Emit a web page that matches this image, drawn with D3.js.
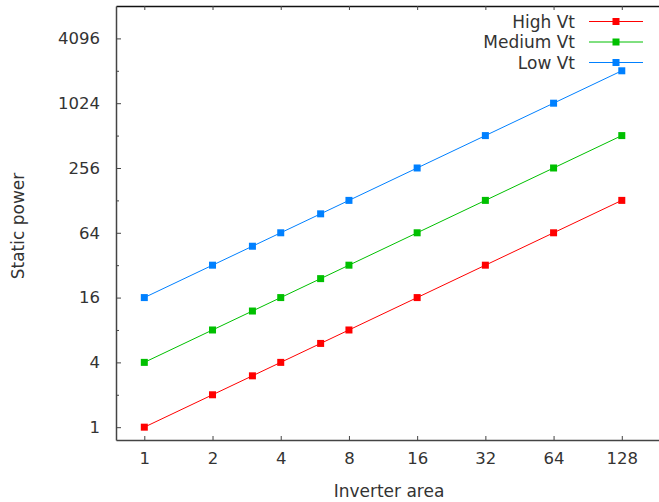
<!DOCTYPE html>
<html><head><meta charset="utf-8">
<script src="https://cdn.jsdelivr.net/npm/d3@7"></script>
<style>body{margin:0;background:#fff}svg{display:block}text{font-family:"DejaVu Sans",sans-serif;fill:#333}</style>
</head><body><svg id="c" width="659" height="502"></svg>
<script>
const areas = [1, 2, 3, 4, 6, 8, 16, 32, 64, 128];
const highVt = [1, 2, 3, 4, 6, 8, 16, 32, 64, 128];
const mediumVt = [4, 8, 12, 16, 24, 32, 64, 128, 256, 512];
const lowVt = [16, 32, 48, 64, 96, 128, 256, 512, 1024, 2048];
const seriesNames = ["High Vt", "Medium Vt", "Low Vt"];
const seriesColors = ["#ff0000", "#00c000", "#0080ff"];
const xTicks = [1, 2, 4, 8, 16, 32, 64, 128];
const yTicks = [1, 4, 16, 64, 256, 1024, 4096];
const yMinorTicks = [2, 8, 32, 128, 512, 2048];

const svg = d3.select("#c");
const L = 116, T = 6, B = 440;
const x = d3.scaleLog().base(2).domain([0.75, 256]).range([L, 690]);
const y = d3.scaleLog().base(2).domain([0.76, 8192]).range([B, T]);
const axisColor = "#444";
const fsTick = 16.5, fsText = 17;

// bottom axis
const gx = svg.append("g").attr("transform", `translate(0,${B})`)
  .call(d3.axisBottom(x).tickValues(xTicks).tickFormat(d3.format("d")).tickSizeInner(-4).tickSizeOuter(0).tickPadding(12));
gx.select(".domain").attr("stroke", axisColor).attr("stroke-width", 1.5);
gx.selectAll(".tick line").attr("stroke", axisColor);
gx.selectAll(".tick text").attr("font-size", fsTick).attr("fill", "#333");
// top axis ticks
const gt = svg.append("g").attr("transform", `translate(0,${T})`)
  .call(d3.axisTop(x).tickValues(xTicks).tickFormat("").tickSizeInner(-4).tickSizeOuter(0));
gt.select(".domain").attr("stroke", "#111").attr("stroke-width", 1.5);
gt.selectAll(".tick line").attr("stroke", axisColor);
// left axis
const gy = svg.append("g").attr("transform", `translate(${L},0)`)
  .call(d3.axisLeft(y).tickValues(yTicks).tickFormat(d3.format("d")).tickSizeInner(-5).tickSizeOuter(0).tickPadding(16));
gy.select(".domain").attr("stroke", axisColor).attr("stroke-width", 1.5);
gy.selectAll(".tick line").attr("stroke", axisColor);
gy.selectAll(".tick text").attr("font-size", fsTick).attr("fill", "#333");
const gym = svg.append("g").attr("transform", `translate(${L},0)`)
  .call(d3.axisLeft(y).tickValues(yMinorTicks).tickFormat("").tickSizeInner(-3).tickSizeOuter(0));
gym.select(".domain").remove();
gym.selectAll(".tick line").attr("stroke", axisColor);

// axis titles
svg.append("text").attr("x", 389).attr("y", 497).attr("text-anchor", "middle").attr("font-size", fsText).text("Inverter area");
svg.append("text").attr("transform", "translate(24,226) rotate(-90)").attr("text-anchor", "middle").attr("font-size", fsText).text("Static power");

const allSeries = [highVt, mediumVt, lowVt];
const line = d3.line().x(d => x(d[0])).y(d => y(d[1]));
const ms = 7;
allSeries.forEach((vals, i) => {
  const pts = areas.map((a, j) => [a, vals[j]]);
  svg.append("path").datum(pts).attr("d", line).attr("fill", "none").attr("stroke", seriesColors[i]).attr("stroke-width", 1);
  svg.selectAll(null).data(pts).enter().append("rect")
    .attr("x", d => x(d[0]) - ms / 2).attr("y", d => y(d[1]) - ms / 2)
    .attr("width", ms).attr("height", ms).attr("fill", seriesColors[i]);
});

// legend
const legY = [21.5, 42, 62.5];
seriesNames.forEach((n, i) => {
  const g = svg.append("g");
  g.append("text").attr("x", 575).attr("y", legY[i]).attr("dy", "0.36em").attr("text-anchor", "end").attr("font-size", fsText).text(n);
  g.append("line").attr("x1", 589).attr("x2", 643).attr("y1", legY[i]).attr("y2", legY[i]).attr("stroke", seriesColors[i]).attr("stroke-width", 1);
  g.append("rect").attr("x", 616 - ms / 2).attr("y", legY[i] - ms / 2).attr("width", ms).attr("height", ms).attr("fill", seriesColors[i]);
});
</script></body></html>
